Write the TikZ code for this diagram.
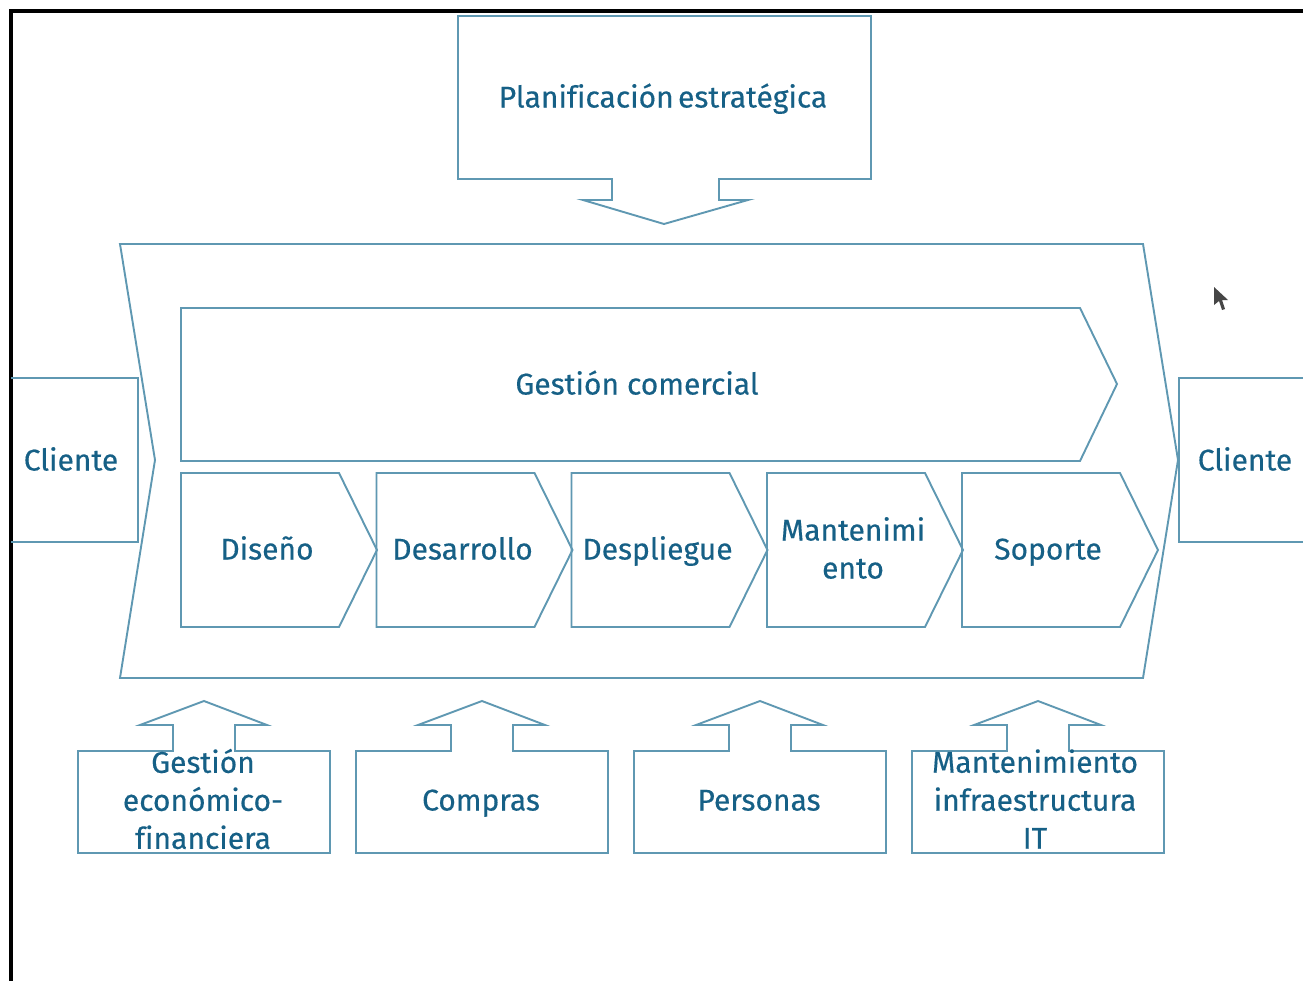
\documentclass[tikz,border=0pt]{standalone}
\usepackage{fontspec}
\setmainfont{Fira Sans}[FakeBold=0.35, Ligatures=NoCommon]
\definecolor{linec}{RGB}{95,152,178}
\definecolor{textc}{RGB}{22,96,134}
\definecolor{cursorc}{RGB}{70,70,70}
\tikzset{
  shapeline/.style={draw=linec, line width=1.9pt, line join=miter},
  lbl/.style={text=textc, font=\fontsize{30}{38}\selectfont, align=center, inner sep=0pt},
  lbl1/.style={text=textc, font=\fontsize{30}{38}\selectfont, inner sep=0pt, text height=21pt, text depth=0pt},
}
\begin{document}
\begin{tikzpicture}[x=1pt,y=-1pt]
\useasboundingbox (0,0) rectangle (1303,980);
\fill[white] (0,0) rectangle (1303,980);
% frame
\draw[black, line width=3.5pt] (11,982) -- (11,11) -- (1305,11);

% Planificacion estrategica block arrow
\draw[shapeline] (458,16) -- (871,16) -- (871,179) -- (719,179) -- (719,200) -- (748,200) -- (664,224) -- (583,200) -- (612,200) -- (612,179) -- (458,179) -- cycle;
\node[lbl1] (plan) at (663,97) {Planificación\hspace{-0.12em} estratégica};

% outer chevron
\draw[shapeline] (120,244) -- (1143,244) -- (1178,460) -- (1143,678) -- (120,678) -- (155,460) -- cycle;

% Gestion comercial
\draw[shapeline] (181,308) -- (1080,308) -- (1117,384) -- (1080,461) -- (181,461) -- cycle;
\node[lbl1] (gc) at (637,384) {Gestión comercial};

% process chevrons
\foreach \l/\name/\txt in {181/dis/Diseño, 376.5/des/Desarrollo, 571.5/dep/Despliegue, 962/sop/Soporte} {
  \draw[shapeline] (\l,473) -- (\l+158,473) -- (\l+196,550) -- (\l+158,627) -- (\l,627) -- cycle;
  \node[lbl1] (\name) at (\l+86,549) {\txt};
}
\draw[shapeline] (767,473) -- (925,473) -- (963,550) -- (925,627) -- (767,627) -- cycle;
\node[lbl] (man) at (853,548) {Mantenimi\\ento};

% clients
\draw[shapeline] (11,378) -- (138,378) -- (138,542) -- (11,542);
\node[lbl1] (cl1) at (71,460) {Cliente};
\draw[shapeline] (1310,378) -- (1179,378) -- (1179,542) -- (1310,542);
\node[lbl1] (cl2) at (1245,460) {Cliente};

% support boxes with up arrows
\foreach \l in {78, 356, 634, 912} {
  \pgfmathsetmacro{\c}{\l+126}
  \draw[shapeline] (\l,853) -- (\l,751) -- (\c-31,751) -- (\c-31,725) -- (\c-64,725) -- (\c,701) -- (\c+63,725) -- (\c+31,725) -- (\c+31,751) -- (\l+252,751) -- (\l+252,853) -- cycle;
}
\node[lbl] (gef) at (203,799) {Gestión\\económico-\\financiera};
\node[lbl1] (com) at (481,800) {Compras};
\node[lbl1] (per) at (759,800) {Personas};
\node[lbl] (mit) at (1035,799) {Mantenimiento\\infraestructura\\IT};

% mouse cursor
\fill[cursorc] (1214,287) -- (1214,305) -- (1219,301) -- (1222,310) -- (1225,309) -- (1222,300) -- (1228,300) -- cycle;
\end{tikzpicture}
\end{document}
